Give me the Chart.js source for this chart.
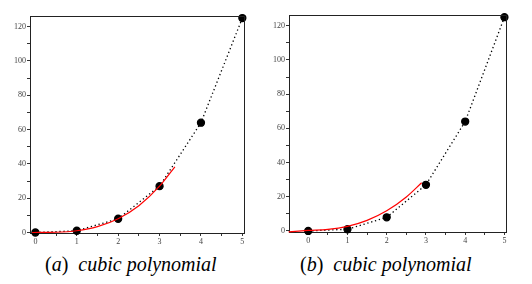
<!DOCTYPE html>
<html>
<head>
<meta charset="utf-8">
<script src="https://cdn.jsdelivr.net/npm/chart.js@4.4.0/dist/chart.umd.min.js"></script>
<style>
  html, body { margin: 0; padding: 0; background: #fff; }
  body { width: 532px; height: 284px; position: relative; overflow: hidden; }
  .box { position: absolute; top: 0; width: 266px; height: 250px; }
  #boxA { left: 0; }
  #boxB { left: 266px; }
  .cap {
    position: absolute; top: 253px;
    font-family: "Liberation Serif", "Times New Roman", Tinos, "DejaVu Serif", serif;
    font-size: 20px; color: #000; white-space: nowrap;
  }
  #capA { left: 45px; }
  #capB { left: 300px; }
</style>
</head>
<body>
<div class="box" id="boxA"><canvas id="chartA"></canvas></div>
<div class="box" id="boxB"><canvas id="chartB"></canvas></div>
<div class="cap" id="capA">(<i>a</i>)&nbsp; <i>cubic polynomial</i></div>
<div class="cap" id="capB">(<i>b</i>)&nbsp; <i>cubic polynomial</i></div>
<script>
// data points (same in both panels)
const ptsX = [0, 1, 2, 3, 4, 5];
const ptsY = [0, 1, 8, 27, 64, 125];

// red curve, panel (a)
const redAX = [-0.08, 0.5, 1, 1.5, 2, 2.5, 3, 3.37];
const redAY = [0, 0.15, 1, 3.4, 8, 15.6, 27, 38.3];

// red curve, panel (b)
const redBX = [-0.5, 0, 0.5, 1, 1.5, 2, 2.5, 2.89];
const redBY = [-0.5, 0.3, 0.9, 2.7, 6.2, 11.8, 19.9, 28.2];

// ticks
const yTicks = [0, 10, 20, 30, 40, 50, 60, 70, 80, 90, 100, 110, 120];
const yLabels = [0, 20, 40, 60, 80, 100, 120];
const xTicks = [0, 0.5, 1, 1.5, 2, 2.5, 3, 3.5, 4, 4.5, 5];
const xLabels = [0, 1, 2, 3, 4, 5];

const toXY = (xs, ys) => xs.map((x, i) => ({ x: x, y: ys[i] }));

// draws top + right edge of the box
const frame = {
  id: "frame",
  afterDatasetsDraw(chart) {
    const { ctx, chartArea: a } = chart;
    ctx.save();
    ctx.strokeStyle = "#222";
    ctx.lineWidth = 1;
    ctx.beginPath();
    ctx.moveTo(a.left, a.top + 0.5);
    ctx.lineTo(a.right + 0.5, a.top + 0.5);
    ctx.lineTo(a.right + 0.5, a.bottom);
    ctx.stroke();
    ctx.restore();
  }
};

function makeChart(id, redX, redY, o) {
  const tickFont = { family: "'Liberation Serif', 'Times New Roman', 'DejaVu Serif', serif", size: 8 };
  return new Chart(document.getElementById(id), {
    type: "scatter",
    data: {
      datasets: [
        {
          data: toXY(ptsX, ptsY),
          showLine: true,
          borderColor: "#000",
          borderWidth: 1.3,
          borderDash: [1.3, 2.7],
          pointRadius: 3.5,
          pointBackgroundColor: "#000",
          pointBorderColor: "#000",
          clip: false,
          order: 2,
        },
        {
          data: toXY(redX, redY),
          showLine: true,
          borderColor: "#ff0000",
          borderWidth: 1.2,
          pointRadius: 0,
          cubicInterpolationMode: "monotone",
          clip: false,
          order: 1,
        }
      ]
    },
    options: {
      responsive: true,
      maintainAspectRatio: false,
      animation: false,
      events: [],
      layout: { padding: { top: o.top, right: o.right, left: 0, bottom: 0 } },
      plugins: { legend: { display: false }, tooltip: { enabled: false } },
      scales: {
        x: {
          type: "linear",
          min: o.xMin, max: o.xMax,
          afterBuildTicks: s => { s.ticks = xTicks.map(v => ({ value: v })); },
          afterFit: s => { s.height = o.xh; },
          grid: { drawOnChartArea: false, tickLength: 3, tickColor: "#333" },
          border: { color: "#222", width: 1 },
          ticks: {
            padding: 1, color: "#444", font: tickFont, maxRotation: 0, autoSkip: false,
            callback: v => xLabels.includes(v) ? String(v) : ""
          }
        },
        y: {
          type: "linear",
          min: o.yMin, max: o.yMax,
          afterBuildTicks: s => { s.ticks = yTicks.map(v => ({ value: v })); },
          afterFit: s => { s.width = o.yw; },
          grid: { drawOnChartArea: false, tickLength: 3, tickColor: "#333" },
          border: { color: "#222", width: 1 },
          ticks: {
            padding: 1, color: "#444", font: tickFont, autoSkip: false,
            callback: v => yLabels.includes(v) ? String(v) : ""
          }
        }
      }
    },
    plugins: [frame]
  });
}

makeChart("chartA", redAX, redAY,
  { top: 16, right: 22, xh: 17, yw: 30, xMin: -0.13, xMax: 5.04, yMin: -0.3, yMax: 126.2 });
makeChart("chartB", redBX, redBY,
  { top: 15, right: 26, xh: 18, yw: 23, xMin: -0.49, xMax: 5.04, yMin: -0.6, yMax: 126.3 });
</script>
</body>
</html>
